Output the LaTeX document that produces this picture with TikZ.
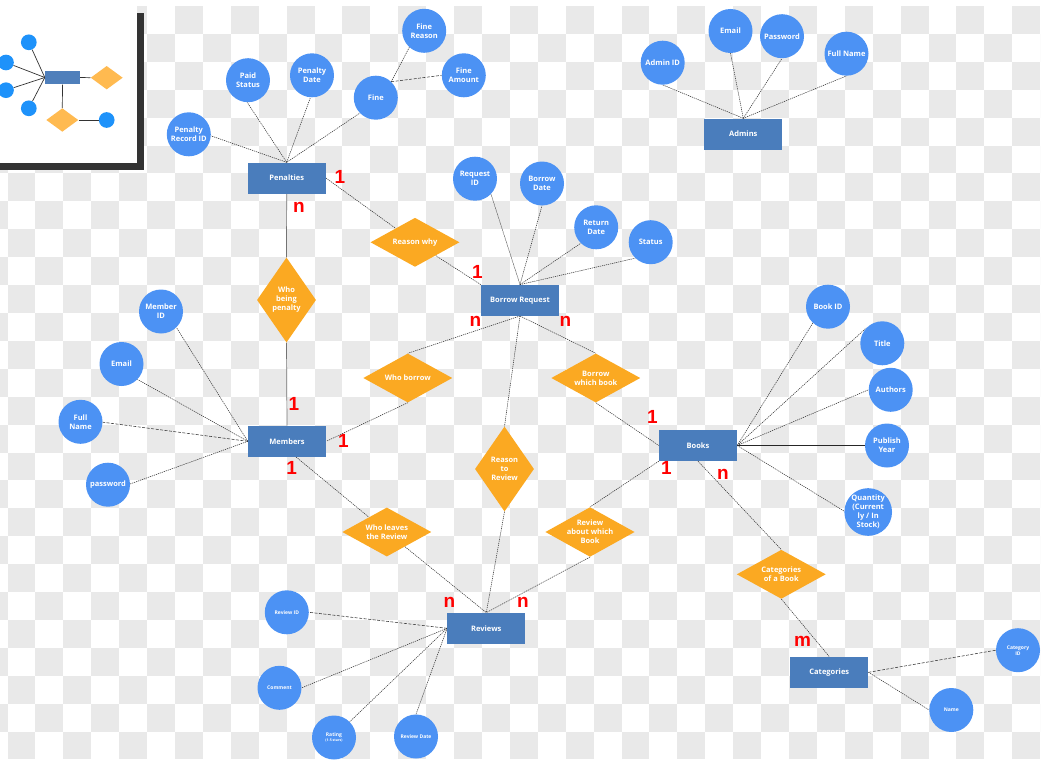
\documentclass[tikz,border=0pt]{standalone}
\usepackage{fontspec}
\setmainfont{Open Sans}
\newfontfamily\cardfont{Liberation Sans}
\usetikzlibrary{shapes.geometric}

\definecolor{attrblue}{RGB}{76,146,244}
\definecolor{entblue}{RGB}{74,125,188}
\definecolor{relorange}{RGB}{251,169,34}
\definecolor{cardred}{RGB}{255,0,0}
\definecolor{checkgray}{RGB}{233,233,233}
\definecolor{keyblue}{RGB}{30,146,250}
\definecolor{keyorange}{RGB}{255,186,80}
\definecolor{keyrect}{RGB}{79,127,187}
\definecolor{shadowgray}{RGB}{51,51,51}

\pgfdeclarelayer{bg}
\pgfdeclarelayer{lines}
\pgfsetlayers{bg,lines,main}

\begin{document}
\begin{tikzpicture}[x=1pt,y=-1pt,
  lbl/.style={text=white,font=\bfseries\fontsize{7.5}{9}\selectfont,align=center},
  ent/.style={lbl,rectangle,fill=entblue,minimum width=78pt,minimum height=31pt,inner sep=0pt},
  attr/.style={lbl,circle,fill=attrblue,minimum size=44pt,inner sep=0pt},
  tinyattr/.style={attr,font=\bfseries\fontsize{5}{6}\selectfont},
  relw/.style={lbl,diamond,fill=relorange,minimum width=89pt,minimum height=49pt,aspect=1.8,inner sep=0pt},
  relt/.style={lbl,diamond,fill=relorange,minimum width=59pt,minimum height=85pt,aspect=0.7,inner sep=0pt},
  card/.style={text=cardred,font=\cardfont\bfseries\fontsize{19}{19}\selectfont,inner sep=0pt},
  conn/.style={draw=black!80,line width=0.55pt,dash pattern=on 1.2pt off 0.9pt},
  longdash/.style={draw=black!80,line width=0.55pt,dash pattern=on 3pt off 1.5pt},
  link/.style={draw=black!55,line width=0.7pt},
  keycirc/.style={circle,fill=keyblue,minimum size=15.7pt,inner sep=0pt},
  keydia/.style={diamond,fill=keyorange,minimum width=32pt,minimum height=23.5pt,aspect=1.4,inner sep=0pt},
  keyline/.style={draw=shadowgray,line width=0.7pt},
]
\useasboundingbox (0,0) rectangle (1053,768);

% transparent-canvas checkerboard and the key panel
\begin{pgfonlayer}{bg}
  \begin{scope}
    \clip (0,7) rectangle (1040,758);
    \foreach \i in {-1,...,37}{
      \foreach \j in {0,...,27}{
        \ifodd\numexpr\i+\j\relax\else
          \fill[checkgray] ({7.5+\i*27.91},{6+\j*27.91}) rectangle +(27.91,27.91);
        \fi
      }
    }
  \end{scope}
  \fill[shadowgray] (-1,12.7) rectangle (144,170);
  \fill[white] (-1,-1) rectangle (137,163);
\end{pgfonlayer}

% key: entity, attributes and relationships
\node[fill=keyrect,rectangle,minimum width=35pt,minimum height=13.7pt,inner sep=0pt] (krect) at (62.5,77.5) {};
\node[keycirc] (kc1) at (28.8,42.3) {};
\node[keycirc] (kc2) at (6,62.5) {};
\node[keycirc] (kc3) at (6,90.2) {};
\node[keycirc] (kc4) at (28.8,108.3) {};
\node[keydia] (kd1) at (106.7,77.7) {};
\node[keydia] (kd2) at (62.3,120) {};
\node[keycirc] (kc5) at (106.7,120) {};

% entities
\node[ent] (pen) at (286.7,178) {Penalties};
\node[ent] (adm) at (743.3,134) {Admins};
\node[ent] (br) at (520,300.3) {Borrow Request};
\node[ent] (mem) at (287,441.3) {Members};
\node[ent] (books) at (698,445.5) {Books};
\node[ent] (rev) at (486.3,628.3) {Reviews};
\node[ent] (cat) at (829.3,672.3) {Categories};

% relationships
\node[relw] (reason) at (415,242.3) {Reason why};
\node[relt] (wbp) at (286.5,300) {Who\\being\\penalty};
\node[relw] (whob) at (407.8,378) {Who borrow};
\node[relw] (bwb) at (595.8,378) {Borrow\\which book};
\node[relt] (r2r) at (504.5,469) {Reason\\to\\Review};
\node[relw] (wlr) at (386.8,532) {Who leaves\\the Review};
\node[relw] (rab) at (590,532) {Review\\about which\\Book};
\node[relw] (cob) at (781.3,574.3) {Categories\\of a Book};

% attributes of Penalties
\node[attr] (fr) at (424.2,30.8) {Fine\\Reason};
\node[attr] (fa) at (463.8,75.3) {Fine\\Amount};
\node[attr] (fine) at (375.8,97.7) {Fine};
\node[attr] (pd) at (312,75.3) {Penalty\\Date};
\node[attr] (ps) at (248,80.2) {Paid\\Status};
\node[attr] (prid) at (188.8,134.3) {Penalty\\Record ID};
% attributes of Borrow Request
\node[attr] (rqid) at (475,178.7) {Request\\ID};
\node[attr] (bd) at (542,183.5) {Borrow\\Date};
\node[attr] (rd) at (596.2,227.3) {Return\\Date};
\node[attr] (st) at (650.7,242.2) {Status};
% attributes of Admins
\node[attr] (aid) at (662.7,62.7) {Admin ID};
\node[attr] (aem) at (730.5,31) {Email};
\node[attr] (apw) at (782,36.2) {Password};
\node[attr] (afn) at (846.5,53.7) {Full Name};
% attributes of Members
\node[attr] (mid) at (161,311.5) {Member\\ID};
\node[attr] (mem2) at (121.5,364) {Email};
\node[attr] (mfn) at (80.5,421.8) {Full\\Name};
\node[attr] (mpw) at (108,484.7) {password};
% attributes of Books
\node[attr] (bid) at (828,306.7) {Book ID};
\node[attr] (title) at (882.3,343.3) {Title};
\node[attr] (auth) at (890.7,389.8) {Authors};
\node[attr] (py) at (887,445.5) {Publish\\Year};
\node[attr] (qty) at (868.2,512) {Quantity\\(Current\\ly / In\\Stock)};
% attributes of Reviews
\node[tinyattr] (rvid) at (286.8,612.3) {Review ID};
\node[tinyattr] (cmt) at (279.5,687.8) {Comment};
\node[tinyattr] (rat) at (334,737.5) {Rating\\[-1pt]{\fontsize{3.5}{4}\selectfont(1-5 stars)}};
\node[tinyattr] (rvd) at (416,736.5) {Review Date};
% attributes of Categories
\node[tinyattr] (cid) at (1018,650.2) {Category\\ID};
\node[tinyattr] (cname) at (951.3,710) {Name};

% cardinalities
\node[card] (c1) at (340,177) {1};
\node[card] (c2) at (299,207) {n};
\node[card] (c3) at (477.3,272) {1};
\node[card] (c4) at (475.3,321) {n};
\node[card] (c5) at (565.3,321) {n};
\node[card] (c6) at (294,403.7) {1};
\node[card] (c7) at (343.5,441) {1};
\node[card] (c8) at (291.7,468) {1};
\node[card] (c9) at (652.5,416.5) {1};
\node[card] (c10) at (666.3,468.3) {1};
\node[card] (c11) at (723,474.7) {n};
\node[card] (c12) at (449.5,602) {n};
\node[card] (c13) at (523,602.8) {n};
\node[card] (c14) at (802.5,641.7) {m};

\begin{pgfonlayer}{lines}
  % key connectors
  \draw[keyline] (krect.west) -- (kc1);
  \draw[keyline] (krect.west) -- (kc2);
  \draw[keyline] (krect.west) -- (kc3);
  \draw[keyline] (krect.west) -- (kc4);
  \draw[keyline] (krect.east) -- (kd1.west);
  \draw[keyline] (krect.south) -- (kd2.north);
  \draw[keyline] (kd2.east) -- (kc5.west);

  % Penalties
  \draw[conn] (pen.north) -- (prid.356);
  \draw[conn] (pen.north) -- (ps.268);
  \draw[conn] (pen.north) -- (pd.266);
  \draw[conn] (pen.north) -- (fine.224);
  \draw[conn] (fine.46) -- (fr.228);
  \draw[longdash] (fine.46) -- (fa.180);
  % Admins
  \draw[conn] (adm.north) -- (aid.270);
  \draw[conn] (adm.north) -- (aem.270);
  \draw[conn] (adm.north) -- (apw.270);
  \draw[conn] (adm.north) -- (afn.270);
  % Borrow Request
  \draw[conn] (br.north) -- (rqid.316);
  \draw[conn] (br.north) -- (bd.270);
  \draw[conn] (br.north) -- (rd.226);
  \draw[conn] (br.north) -- (st.226);
  % Members
  \draw[conn] (mem.west) -- (mid.314);
  \draw[conn] (mem.west) -- (mem2.316);
  \draw[longdash] (mem.west) -- (mfn.359);
  \draw[conn] (mem.west) -- (mpw.2);
  % Books
  \draw[conn] (books.east) -- (bid.227);
  \draw[conn] (books.east) -- (title.136);
  \draw[conn] (books.east) -- (auth.180);
  \draw[draw=black!85,line width=0.9pt] (books.east) -- (py.180);
  \draw[conn] (books.east) -- (qty.178);
  % Reviews
  \draw[longdash] (rev.west) -- (rvid.0);
  \draw[conn] (rev.west) -- (cmt.0);
  \draw[conn] (rev.west) -- (rat.45);
  \draw[conn] (rev.west) -- (rvd.90);
  % Categories
  \draw[longdash] (cat.east) -- (cid.180);
  \draw[conn] (cat.east) -- (cname.180);

  % relationships
  \draw[conn] (pen.east) -- (reason);
  \draw[conn] (reason) -- (br.north west);
  \draw[link] (pen.south) -- (wbp.north);
  \draw[link] (wbp.south) -- (mem.north);
  \draw[conn] (br.south) -- (whob.north);
  \draw[conn] (whob.south) -- (mem.east);
  \draw[conn] (br.south) -- (r2r.north);
  \draw[conn] (r2r.south) -- (rev.north);
  \draw[conn] (br.south) -- (bwb.north);
  \draw[conn] (bwb.south) -- (books.west);
  \draw[conn] (mem.-60) -- (wlr);
  \draw[conn] (wlr) -- (rev.north);
  \draw[conn] (books.south west) -- (rab.north);
  \draw[conn] (rab.south) -- (rev.north);
  \draw[conn] (books.south) -- (cob.north);
  \draw[conn] (cob.south) -- (cat.north);
\end{pgfonlayer}
\end{tikzpicture}
\end{document}
